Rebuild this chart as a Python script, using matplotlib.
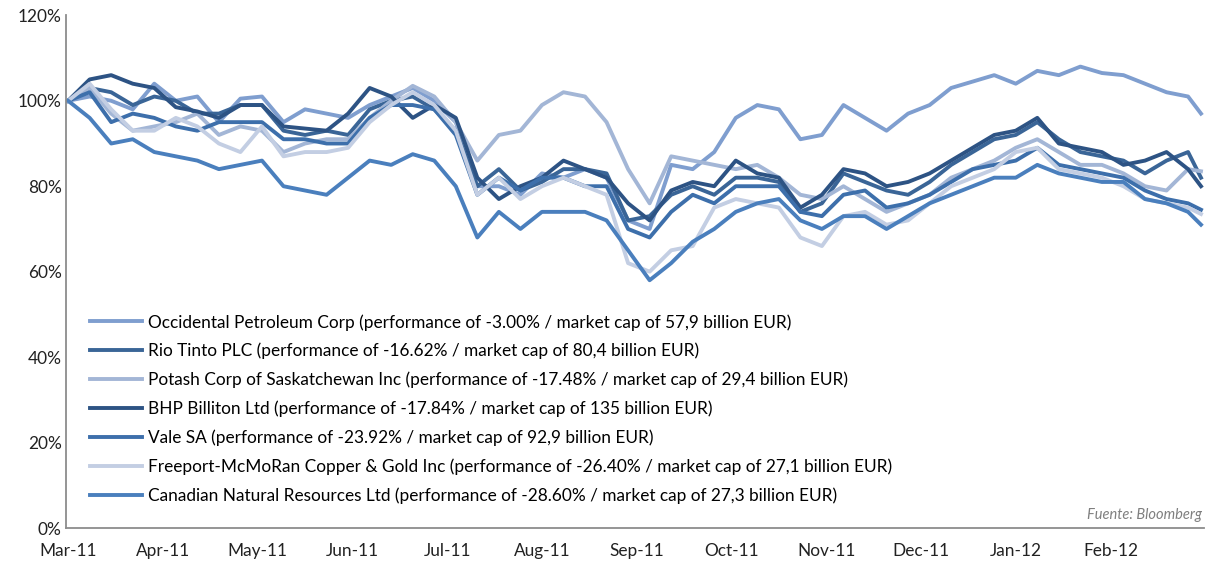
import matplotlib
matplotlib.use("Agg")
import matplotlib.pyplot as plt

# trading-day index of each sample (weekly readings)
days = list(range(0, 261, 5)) + [263]

month_labels = ['Mar-11', 'Apr-11', 'May-11', 'Jun-11', 'Jul-11', 'Aug-11',
                'Sep-11', 'Oct-11', 'Nov-11', 'Dec-11', 'Jan-12', 'Feb-12']
month_ticks = [0, 22, 44, 66, 88, 110, 132, 154, 176, 198, 220, 242]

occidental = [100, 101, 100, 98, 104, 100, 101, 95, 100.5, 101, 95, 98, 97, 96,
              99, 101, 103, 100, 95, 80, 80, 78, 83, 82, 84, 82, 72, 70, 85, 84,
              88, 96, 99, 98, 91, 92, 99, 96, 93, 97, 99, 103, 104.5, 106, 104,
              107, 106, 108, 106.5, 106, 104, 102, 101, 97]
rio_tinto = [100, 103, 102, 99, 101, 100, 97, 97, 99, 99, 93, 92, 93, 92, 98,
             100, 101, 98, 93, 80, 84, 79, 81, 84, 84, 83, 72, 73, 78, 80, 78,
             82, 82, 81, 74, 76, 83, 81, 79, 78, 81, 85, 88, 91, 92, 95, 91, 88,
             87, 86, 83, 86, 88, 82]
potash = [100, 103, 97, 93, 94, 95, 97, 92, 94, 93, 88, 90, 91, 91, 96, 100,
          103.5, 101, 95, 86, 92, 93, 99, 102, 101, 95, 84, 76, 87, 86, 85, 84,
          85, 82, 78, 77, 80, 77, 74, 76, 78, 82, 84, 86, 89, 91, 88, 85, 85,
          83, 80, 79, 84, 83.5]
bhp = [100, 105, 106, 104, 103, 98.5, 97.5, 96, 99, 99, 94, 93.5, 93, 97, 103,
       101, 96, 99, 96, 82, 77, 80, 82, 86, 84, 82, 76, 72, 79, 81, 80, 86, 83,
       82, 75, 78, 84, 83, 80, 81, 83, 86, 89, 92, 93, 96, 90, 89, 88, 85, 86,
       88, 84, 80]
vale = [100, 102, 95, 97, 96, 94, 93, 95, 95, 95, 91, 91, 90, 90, 96, 99, 99,
        98, 92, 78, 82, 79, 82, 82, 80, 80, 70, 68, 74, 78, 76, 80, 80, 80, 74,
        73, 78, 79, 75, 76, 78, 81, 84, 85, 86, 89, 85, 84, 83, 82, 79, 77, 76,
        74.5]
freeport = [100, 104, 98, 93, 93, 96, 94, 90, 88, 94, 87, 88, 88, 89, 95, 99,
            102, 99, 93, 78, 82, 77, 80, 82, 80, 78, 62, 60, 65, 66, 75, 77, 76,
            75, 68, 66, 73, 74, 71, 72, 76, 80, 82, 84, 88, 89, 84, 83, 82, 80,
            77, 76, 75, 73.5]
canadian = [100, 96, 90, 91, 88, 87, 86, 84, 85, 86, 80, 79, 78, 82, 86, 85,
            87.5, 86, 80, 68, 74, 70, 74, 74, 74, 72, 65, 58, 62, 67, 70, 74, 76,
            77, 72, 70, 73, 73, 70, 73, 76, 78, 80, 82, 82, 85, 83, 82, 81, 81,
            77, 76, 74, 71]

series = [
    ('Occidental Petroleum Corp (performance of -3.00% / market cap of 57,9 billion EUR)', occidental, '#7f9ecf'),
    ('Rio Tinto PLC (performance of -16.62% / market cap of 80,4 billion EUR)', rio_tinto, '#3a6597'),
    ('Potash Corp of Saskatchewan Inc (performance of -17.48% / market cap of 29,4 billion EUR)', potash, '#a3b6d6'),
    ('BHP Billiton Ltd (performance of -17.84% / market cap of 135 billion EUR)', bhp, '#2d5384'),
    ('Vale SA (performance of -23.92% / market cap of 92,9 billion EUR)', vale, '#3d6fab'),
    ('Freeport-McMoRan Copper & Gold Inc (performance of -26.40% / market cap of 27,1 billion EUR)', freeport, '#c3cee3'),
    ('Canadian Natural Resources Ltd (performance of -28.60% / market cap of 27,3 billion EUR)', canadian, '#4a7fbd'),
]

plt.rcParams['font.family'] = ['Lato', 'DejaVu Sans']

fig = plt.figure(figsize=(12.06, 5.64), dpi=100)
ax = fig.add_axes([0.0547, 0.0638, 0.944, 0.909])

for label, vals, color in series:
    ax.plot(days, vals, color=color, lw=2.8, label=label, solid_joinstyle='round')

ax.set_xlim(-0.5, 263.8)
ax.set_ylim(0, 120)
ax.set_yticks(range(0, 121, 20))
ax.set_yticklabels([f'{v}%' for v in range(0, 121, 20)])
ax.set_xticks(month_ticks)
ax.set_xticklabels(month_labels)
ax.tick_params(axis='both', length=0, labelsize=12.4, colors='#222222')
ax.tick_params(axis='x', pad=11)
ax.tick_params(axis='y', pad=3)

for s in ['top', 'right']:
    ax.spines[s].set_visible(False)
for s in ['left', 'bottom']:
    ax.spines[s].set_color('#8c8c8c')
    ax.spines[s].set_linewidth(1.3)

ax.legend(loc='upper left', bbox_to_anchor=(0.015, 0.431), frameon=False,
          fontsize=12.4, handlelength=3.0, handletextpad=0.35, labelspacing=0.72,
          borderaxespad=0)

ax.text(0.998, 0.012, 'Fuente: Bloomberg', transform=ax.transAxes, ha='right',
        va='bottom', fontsize=10.5, style='italic', color='#7f7f7f')

fig.savefig('out.png', dpi=100)
